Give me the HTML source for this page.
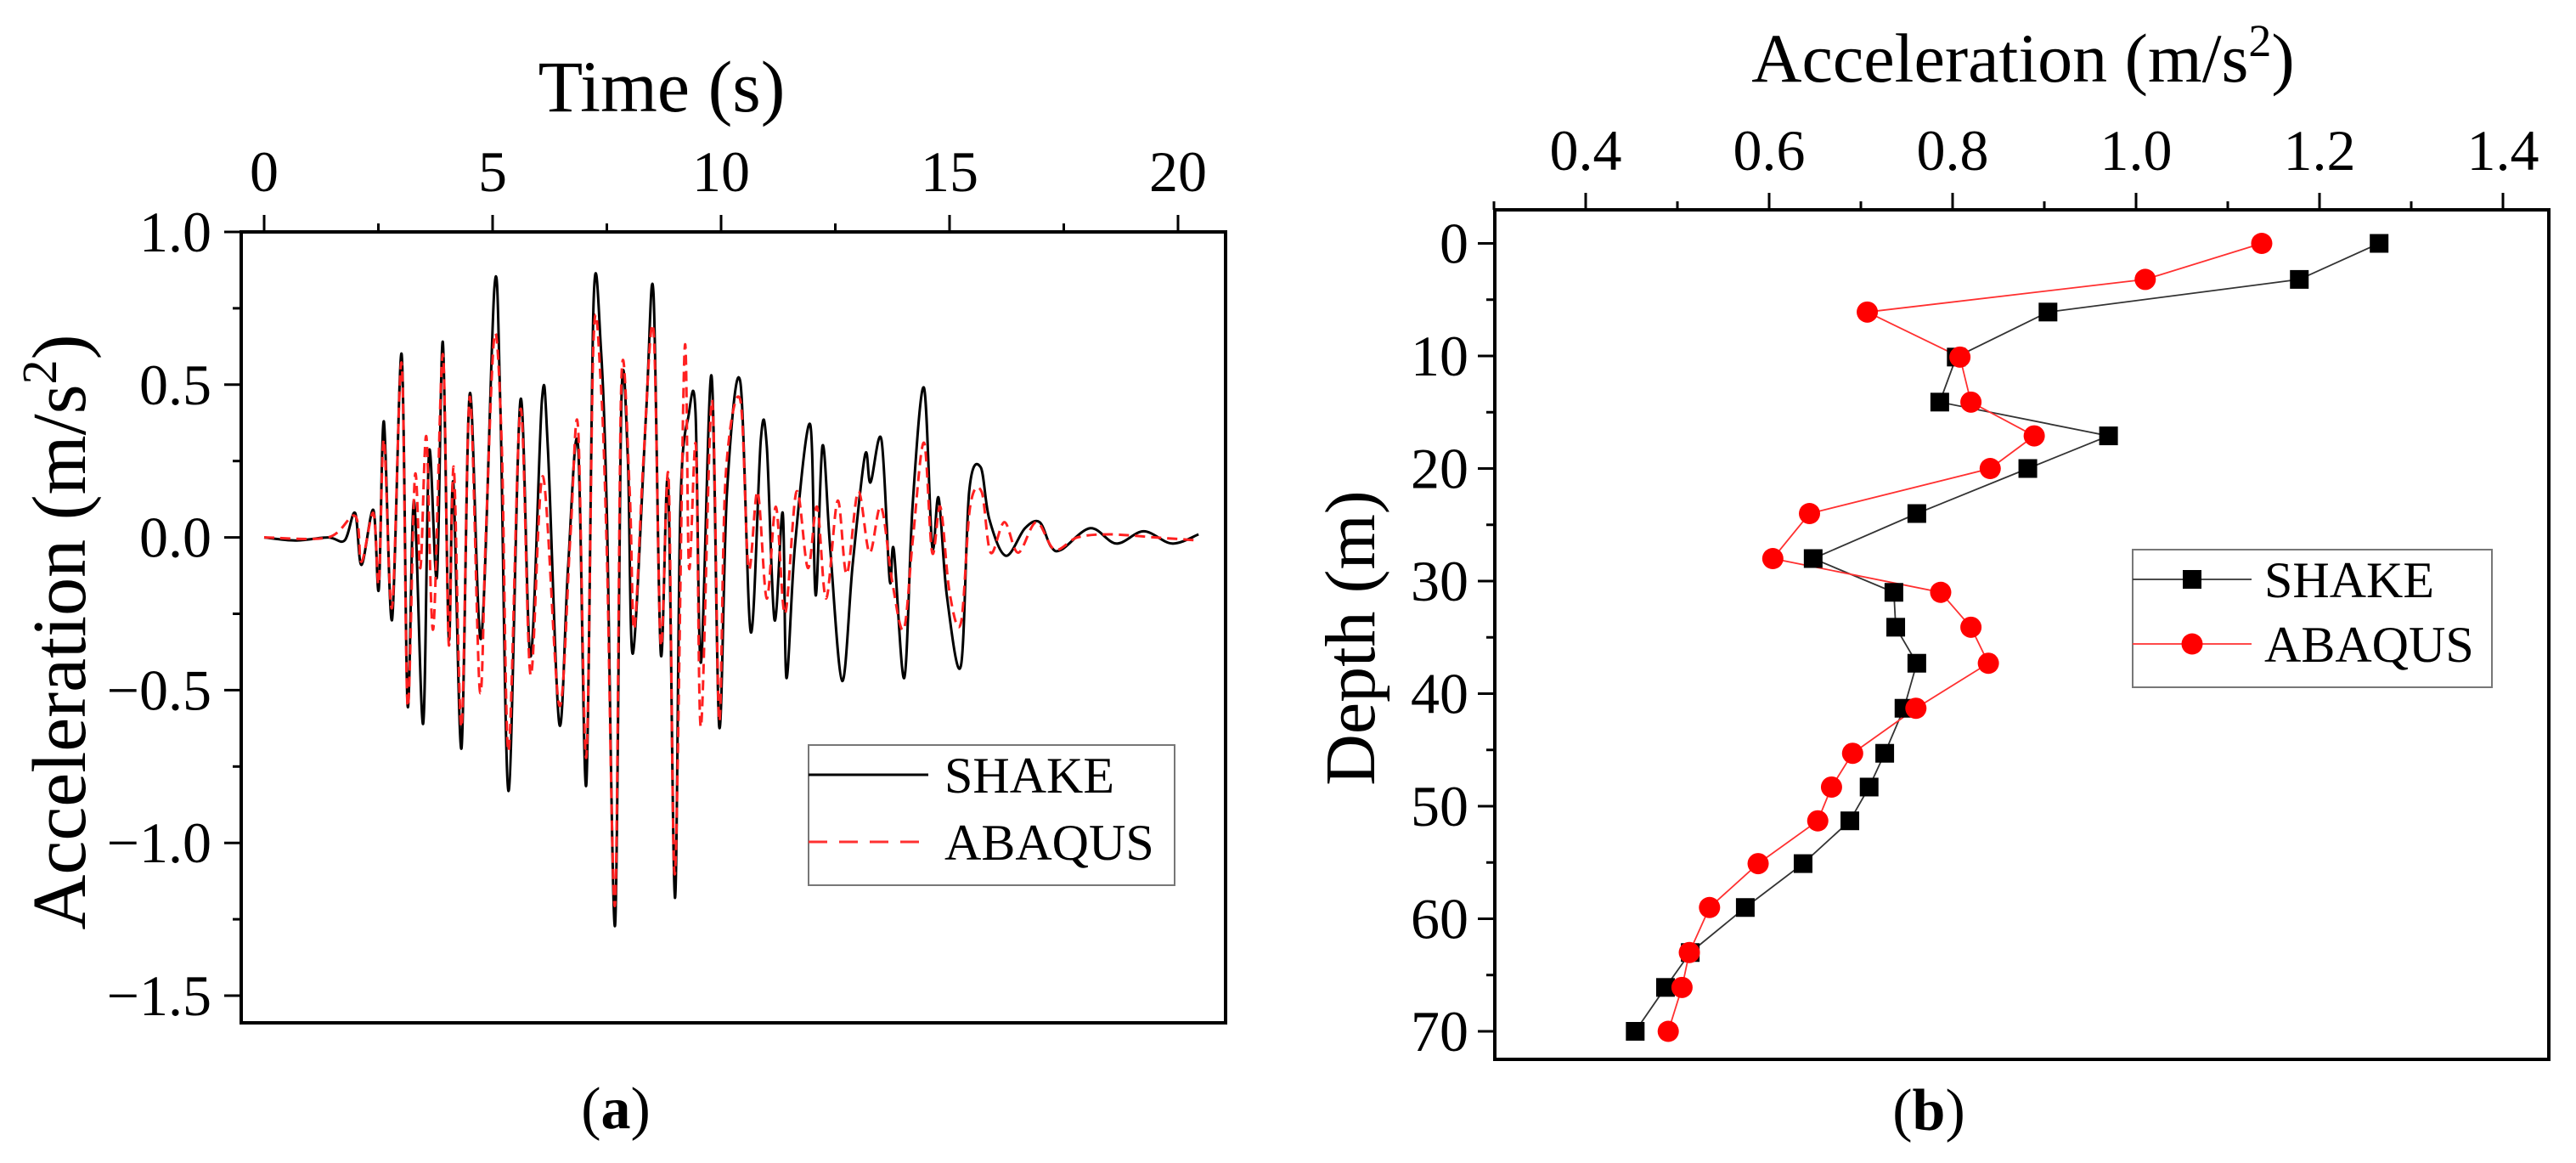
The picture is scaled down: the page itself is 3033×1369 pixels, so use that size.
<!DOCTYPE html>
<html><head><meta charset="utf-8"><style>
html,body{margin:0;padding:0;background:#fff;}
svg{display:block;font-family:"Liberation Serif",serif;}
</style></head><body>
<svg id="fig" width="3033" height="1369" viewBox="0 0 3033 1369" xmlns="http://www.w3.org/2000/svg">
<g id="chartA"></g>
<g id="chartB"></g>
</svg>
<script>
// ---------- Chart (a) data ----------
const shakeT = [0,0.68,1.40,1.76,1.99,2.13,2.39,2.51,2.62,2.80,3.01,3.14,3.28,3.48,3.61,3.78,3.91,4.04,4.14,4.32,4.50,4.75,5.04,5.17,5.35,5.61,5.83,6.08,6.21,6.46,6.65,6.87,7.05,7.21,7.37,7.50,7.68,7.82,7.96,8.07,8.36,8.52,8.68,8.84,8.99,9.11,9.29,9.44,9.56,9.79,9.96,10.13,10.42,10.65,10.87,11.00,11.17,11.35,11.43,11.62,11.95,12.07,12.22,12.39,12.65,12.88,13.15,13.27,13.51,13.69,13.78,14.01,14.19,14.44,14.62,14.76,14.94,15.25,15.43,15.68,15.87,16.23,16.65,16.97,17.22,17.45,18.08,18.65,19.25,19.87,20.45];
const shakeV = [0,-0.01,0,-0.01,0.08,-0.09,0.09,-0.17,0.38,-0.27,0.60,-0.55,0.12,-0.61,0.28,-0.13,0.64,-0.33,0.18,-0.69,0.47,-0.33,0.82,0.43,-0.83,0.45,-0.39,0.45,0.29,-0.61,-0.10,0.30,-0.81,0.77,0.62,0.08,-1.27,0.45,0.26,-0.38,0.41,0.80,-0.38,0.18,-1.18,0.10,0.40,0.41,-0.41,0.53,-0.62,0.15,0.51,-0.31,0.32,0.30,-0.27,0.08,-0.46,-0.02,0.37,-0.19,0.30,-0.04,-0.47,-0.09,0.27,0.18,0.32,-0.14,-0.04,-0.46,0.10,0.49,-0.03,0.13,-0.19,-0.42,0.15,0.23,0.06,-0.06,0.03,0.05,-0.03,-0.04,0.03,-0.02,0.02,-0.02,0.01];
const abaqusT = [0,1.40,1.99,2.13,2.39,2.51,2.62,2.80,3.01,3.14,3.30,3.42,3.55,3.70,3.91,4.04,4.15,4.32,4.50,4.72,4.85,5.04,5.20,5.35,5.61,5.83,6.10,6.46,6.70,6.87,7.05,7.21,7.37,7.50,7.68,7.82,8.00,8.10,8.30,8.52,8.68,8.85,8.99,9.20,9.30,9.45,9.56,9.80,9.96,10.10,10.42,10.60,10.80,11.00,11.20,11.40,11.65,11.90,12.10,12.30,12.55,12.75,13.00,13.25,13.50,13.75,14.00,14.20,14.44,14.62,14.80,15.00,15.25,15.45,15.70,15.90,16.20,16.50,16.90,17.30,17.80,18.50,19.50,20.45];
const abaqusV = [0,0,0.07,-0.08,0.08,-0.15,0.32,-0.23,0.57,-0.55,0.20,-0.10,0.33,-0.30,0.60,-0.35,0.23,-0.62,0.46,-0.50,0.00,0.66,0.30,-0.70,0.42,-0.45,0.20,-0.55,0.00,0.36,-0.72,0.65,0.50,-0.05,-1.20,0.52,0.15,-0.30,0.25,0.68,-0.35,0.20,-1.10,0.61,-0.10,0.30,-0.62,0.45,-0.60,0.20,0.45,-0.10,0.15,-0.20,0.10,-0.25,0.15,-0.10,0.10,-0.20,0.12,-0.12,0.15,-0.05,0.10,-0.15,-0.30,0.00,0.31,-0.05,0.10,-0.18,-0.28,0.10,0.15,-0.05,0.05,-0.05,0.05,-0.04,0.00,0.01,0.00,-0.01];
const timeTicks = [0,5,10,15,20];
const accTicks = [1.0,0.5,0.0,-0.5,-1.0,-1.5];
const accTickLabels = ["1.0","0.5","0.0","\u22120.5","\u22121.0","\u22121.5"];

// ---------- Chart (b) data ----------
const depthShake = [0,3.2,6.1,10.1,14.1,17.1,20.0,24.0,28.0,31.0,34.1,37.3,41.3,45.3,48.3,51.3,55.1,59.0,63.0,66.1,70.0];
const accShake = [1.265,1.178,0.904,0.804,0.786,0.970,0.882,0.761,0.648,0.736,0.738,0.761,0.747,0.726,0.709,0.688,0.637,0.574,0.514,0.487,0.454];
const depthAbaqus = [0,3.2,6.1,10.1,14.1,17.1,20.0,24.0,28.0,31.0,34.1,37.3,41.3,45.3,48.3,51.3,55.1,59.0,63.0,66.1,70.0];
const accAbaqus = [1.137,1.010,0.707,0.808,0.820,0.889,0.841,0.644,0.604,0.787,0.820,0.839,0.760,0.691,0.668,0.653,0.588,0.535,0.513,0.505,0.490];
const bAccTicks = [0.4,0.6,0.8,1.0,1.2,1.4];
const bAccTickLabels = ["0.4","0.6","0.8","1.0","1.2","1.4"];
const depthTicks = [0,10,20,30,40,50,60,70];

const NS = "http://www.w3.org/2000/svg";
function mk(parent, tag, attrs, text) {
  const e = document.createElementNS(NS, tag);
  for (const k in attrs) e.setAttribute(k, attrs[k]);
  if (text !== undefined) e.textContent = text;
  parent.appendChild(e);
  return e;
}
function smoothPath(pts) {
  let d = "M" + pts[0][0].toFixed(1) + "," + pts[0][1].toFixed(1);
  for (let i = 0; i < pts.length - 1; i++) {
    const p0 = pts[Math.max(0, i - 1)], p1 = pts[i], p2 = pts[i + 1], p3 = pts[Math.min(pts.length - 1, i + 2)];
    const c1x = p1[0] + (p2[0] - p0[0]) / 6, c1y = p1[1] + (p2[1] - p0[1]) / 6;
    const c2x = p2[0] - (p3[0] - p1[0]) / 6, c2y = p2[1] - (p3[1] - p1[1]) / 6;
    d += " C" + c1x.toFixed(1) + "," + c1y.toFixed(1) + " " + c2x.toFixed(1) + "," + c2y.toFixed(1) + " " + p2[0].toFixed(1) + "," + p2[1].toFixed(1);
  }
  return d;
}

// ================= Chart A =================
(function () {
  const g = document.getElementById("chartA");
  const L = 284, R = 1443, T = 273, B = 1204;
  const xS = t => 311 + t * 53.8;
  const yS = v => 632.6 - v * 359.6;

  const ptsS = shakeT.map((t, i) => [xS(t), yS(shakeV[i])]);
  const ptsA = abaqusT.map((t, i) => [xS(t), yS(abaqusV[i])]);
  const lineS = mk(g, "path", {d: smoothPath(ptsS), fill: "none", stroke: "#000", "stroke-width": 3});
  
  
  const lineA = mk(g, "path", {d: smoothPath(ptsA), fill: "none", stroke: "#ff2020", "stroke-width": 3, "stroke-dasharray": "12,7"});
  
  

  const fr = mk(g, "rect", {x: L, y: T, width: R - L, height: B - T, fill: "none", stroke: "#000", "stroke-width": 4});
  
  

  for (let t = 0; t <= 20; t += 2.5) {
    const major = t % 5 === 0;
    const tk = mk(g, "line", {x1: xS(t), x2: xS(t), y1: T, y2: T - (major ? 20 : 10), stroke: "#000", "stroke-width": 3});
    
    
  }
  timeTicks.forEach(t => {
    const lb = mk(g, "text", {x: xS(t), y: 225, "font-size": 68, "text-anchor": "middle"}, String(t));
    
    
  });
  for (let v = -1.5; v <= 1.0001; v += 0.25) {
    const major = Math.abs(v * 2 - Math.round(v * 2)) < 1e-6;
    const tk = mk(g, "line", {x1: L, x2: L - (major ? 20 : 10), y1: yS(v), y2: yS(v), stroke: "#000", "stroke-width": 3});
    
    
  }
  accTicks.forEach((v, i) => {
    const lb = mk(g, "text", {x: 249, y: yS(v) + 23, "font-size": 68, "text-anchor": "end"}, accTickLabels[i]);
    
    
  });
  const xt = mk(g, "text", {x: 779, y: 131, "font-size": 86, "text-anchor": "middle"}, "Time (s)");
  
  
  const yt = mk(g, "text", {x: 0, y: 0, "font-size": 90, "text-anchor": "middle", transform: "translate(100,744) rotate(-90)"});
  
  
  yt.innerHTML = 'Acceleration (m/s<tspan dy="-34" font-size="58">2</tspan><tspan dy="34">)</tspan>';

  const lg = mk(g, "g", {});
  
  
  mk(lg, "rect", {x: 952, y: 877, width: 431, height: 165, fill: "#fff", stroke: "#777", "stroke-width": 2});
  mk(lg, "line", {x1: 952, x2: 1093, y1: 912, y2: 912, stroke: "#000", "stroke-width": 3});
  const t1 = mk(lg, "text", {x: 1112, y: 933, "font-size": 60}, "SHAKE");
  
  
  mk(lg, "line", {x1: 952, x2: 1093, y1: 991, y2: 991, stroke: "#ff3030", "stroke-width": 3, "stroke-dasharray": "22,14"});
  const t2 = mk(lg, "text", {x: 1112, y: 1012, "font-size": 60}, "ABAQUS");
  
  

  const cap = mk(g, "text", {x: 725, y: 1328, "font-size": 70, "text-anchor": "middle"});
  
  
  cap.innerHTML = '(<tspan font-weight="bold">a</tspan>)';
})();

// ================= Chart B =================
(function () {
  const g = document.getElementById("chartB");
  const L = 1760, R = 3001, T = 247, B = 1247;
  const xS = a => 1867 + (a - 0.4) * 1080;
  const yS = d => 286.5 + d * 13.25;

  const fr = mk(g, "rect", {x: L, y: T, width: R - L, height: B - T, fill: "none", stroke: "#000", "stroke-width": 4});
  
  

  for (let k = 3; k <= 14; k++) {
    const a = k / 10, major = k % 2 === 0;
    const tk = mk(g, "line", {x1: xS(a), x2: xS(a), y1: T, y2: T - (major ? 20 : 10), stroke: "#000", "stroke-width": 3});
    
    
  }
  bAccTicks.forEach((a, i) => {
    const lb = mk(g, "text", {x: xS(a), y: 200, "font-size": 68, "text-anchor": "middle"}, bAccTickLabels[i]);
    
    
  });
  for (let d = 0; d <= 70; d += 5) {
    const major = d % 10 === 0;
    const tk = mk(g, "line", {x1: L, x2: L - (major ? 20 : 10), y1: yS(d), y2: yS(d), stroke: "#000", "stroke-width": 3});
    
    
  }
  depthTicks.forEach(d => {
    const lb = mk(g, "text", {x: 1729, y: yS(d) + 23, "font-size": 68, "text-anchor": "end"}, String(d));
    
    
  });
  const xt = mk(g, "text", {x: 2382, y: 96, "font-size": 82, "text-anchor": "middle"});
  
  
  xt.innerHTML = 'Acceleration (m/s<tspan dy="-30" font-size="54">2</tspan><tspan dy="30">)</tspan>';
  const yt = mk(g, "text", {x: 0, y: 0, "font-size": 84, "text-anchor": "middle", transform: "translate(1618,751) rotate(-90)"}, "Depth (m)");
  
  

  const ls = mk(g, "polyline", {points: accShake.map((a, i) => xS(a) + "," + yS(depthShake[i])).join(" "), fill: "none", stroke: "#333", "stroke-width": 1.8});
  
  
  const la = mk(g, "polyline", {points: accAbaqus.map((a, i) => xS(a) + "," + yS(depthAbaqus[i])).join(" "), fill: "none", stroke: "#ff3030", "stroke-width": 1.8});
  
  
  accShake.forEach((a, i) => {
    const m = mk(g, "rect", {x: xS(a) - 11, y: yS(depthShake[i]) - 11, width: 22, height: 22, fill: "#000"});
    
    
  });
  accAbaqus.forEach((a, i) => {
    const m = mk(g, "circle", {cx: xS(a), cy: yS(depthAbaqus[i]), r: 12.5, fill: "#ff0000"});
    
    
  });

  const lg = mk(g, "g", {});
  
  
  mk(lg, "rect", {x: 2511, y: 647, width: 423, height: 162, fill: "#fff", stroke: "#777", "stroke-width": 2});
  mk(lg, "line", {x1: 2511, x2: 2651, y1: 682, y2: 682, stroke: "#333", "stroke-width": 1.8});
  mk(lg, "rect", {x: 2570, y: 671, width: 22, height: 22, fill: "#000"});
  const t1 = mk(lg, "text", {x: 2666, y: 703, "font-size": 60}, "SHAKE");
  
  
  mk(lg, "line", {x1: 2511, x2: 2651, y1: 758, y2: 758, stroke: "#ff3030", "stroke-width": 1.8});
  mk(lg, "circle", {cx: 2581, cy: 758, r: 12.5, fill: "#ff0000"});
  const t2 = mk(lg, "text", {x: 2666, y: 779, "font-size": 60}, "ABAQUS");
  
  

  const cap = mk(g, "text", {x: 2271, y: 1330, "font-size": 70, "text-anchor": "middle"});
  
  
  cap.innerHTML = '(<tspan font-weight="bold">b</tspan>)';
})();
</script>
</body></html>
